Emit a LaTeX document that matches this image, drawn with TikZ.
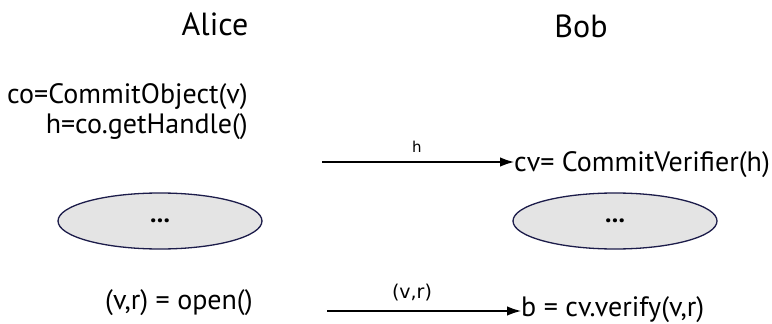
\documentclass[tikz,border=0pt]{standalone}
\usepackage{fontspec}
\setmainfont{PT Sans}
\newfontfamily\lblfont{DejaVu Sans}
\usetikzlibrary{arrows.meta,shapes.geometric}
\definecolor{ellline}{HTML}{1C1C4A}
\definecolor{ellfill}{HTML}{E4E4E4}
\begin{document}
\begin{tikzpicture}[x=1pt,y=-1pt,
  txt/.style={inner sep=0pt,font=\fontsize{28}{32}\selectfont},
  head/.style={inner sep=0pt,anchor=base,font=\fontsize{32}{36}\selectfont},
  msg/.style={line width=1.2pt,-{Latex[length=14pt,width=9.5pt]}},
  lbl/.style={inner sep=0pt,font=\lblfont\fontsize{15}{18}\selectfont},
  blob/.style={ellipse,draw=ellline,fill=ellfill,line width=1.3pt,minimum width=204pt,minimum height=56pt,inner sep=0pt,font=\bfseries\fontsize{26}{28}\selectfont}]
\path[use as bounding box] (0,0) rectangle (772,324);
\node[head] (alice) at (215,35) {Alice};
\node[head] (bob) at (581,37) {Bob};
\node[txt,anchor=base east] (co) at (248,103) {co=CommitObject(v)};
\node[txt,anchor=base east] (hh) at (248,133) {h=co.getHandle()};
\node[txt,anchor=base west] (cv) at (514,171) {cv= CommitVerifier(h)};
\coordinate (s1) at (322,162);
\draw[msg] (s1) -- (cv.west |- s1);
\node[lbl] (lh) at (417,147) {h};
\node[blob] (e1) at (160,221) {...};
\node[blob] (e2) at (615,221) {...};
\node[txt,anchor=base west] (op) at (105,309) {(v,r) = open()};
\node[txt,anchor=base west] (bv) at (521,316) {b = cv.verify(v,r)};
\coordinate (s2) at (327,311);
\draw[msg] (s2) -- (bv.west |- s2);
\node[lbl,font=\lblfont\fontsize{19}{21}\selectfont] (lvr) at (412,293) {(v,r)};
\end{tikzpicture}
\end{document}
